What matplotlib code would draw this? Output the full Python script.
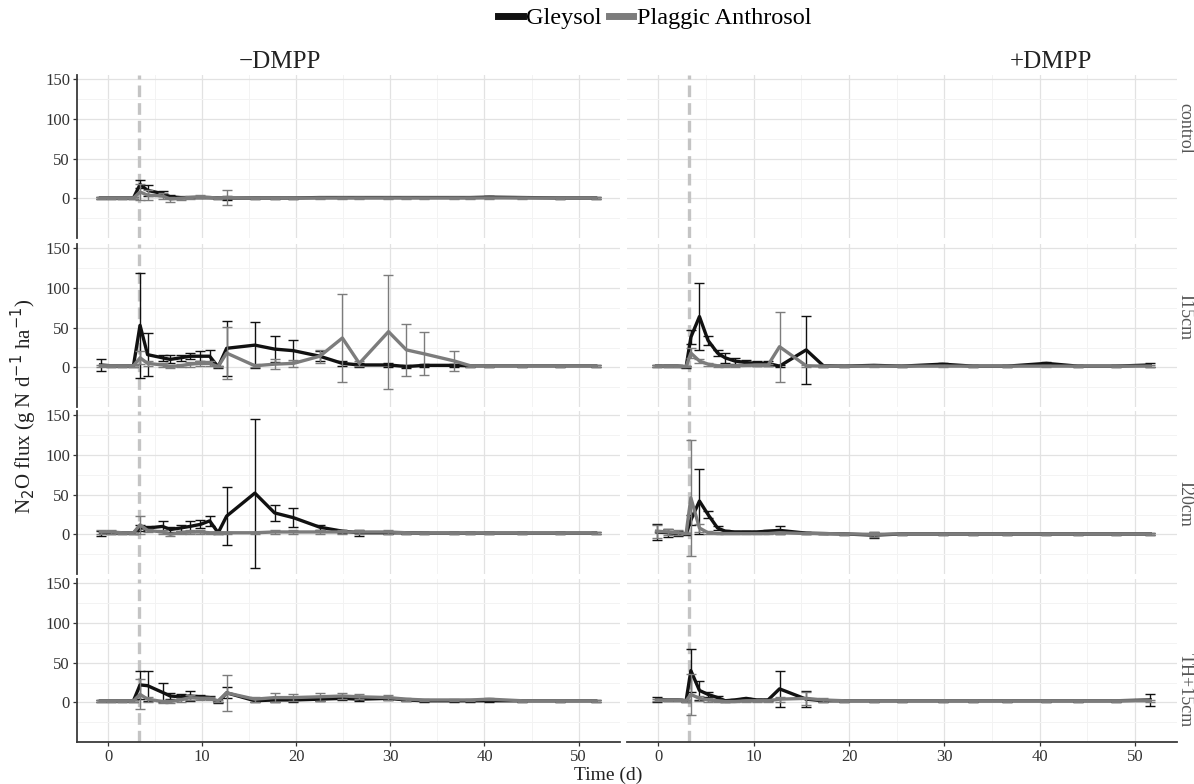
import numpy as np
import matplotlib.pyplot as plt
from matplotlib.lines import Line2D

plt.rcParams['font.family'] = ['Liberation Serif', 'DejaVu Serif']

# =====================================================================
# DATA
# =====================================================================
SOILS = ['Gleysol', 'Plaggic Anthrosol']
ROWS = ['control', 'I15cm', 'I20cm', 'TH+15cm']
COLS = ['\u2212DMPP', '+DMPP']
FERT_DAY = 3.25

# sampling days
days_minus = [-0.8, 0.3, 1.5, 2.7, 3.4, 4.2, 5.8, 6.6, 7.7, 8.7, 9.8, 10.8, 11.7, 12.6,
              15.6, 17.7, 19.7, 22.5, 24.9, 26.7, 29.8, 31.7, 33.6, 36.8, 38.5, 40.5,
              44.0, 48.0, 51.8]
days_plus = [-0.2, 1.0, 2.0, 2.9, 3.4, 4.3, 5.2, 6.2, 7.0, 8.0, 9.2, 10.3, 11.5, 12.7,
             15.5, 17.3, 19.5, 22.6, 25.5, 29.8, 33.0, 36.6, 40.7, 44.0, 48.0, 51.6]

# -DMPP, control
gley_ctrl_m = [0.5, 0.5, 0.5, 0.5, 17.5, 10, 6, 2, 1, 1, 1, 1, 0.5, 0.5,
               0.5, 0.5, 0.5, 1, 1, 1, 1, 1, 1, 1, 1, 1.5, 1, 0.5, 0.5]
gley_ctrl_m_sd = [1, 1, 1, 1, 5, 7, 3, 2, 1, 1, 1, 1, 1, 2,
                  1, 1, 1, 1, 1, 1, 1, 1, 1, 1, 1, 1, 1, 1, 1]
plag_ctrl_m = [0.5, 0.5, 0.5, 0.5, 8, 4, 3, -1, 0, 1, 2, 1, 0.5, 1,
               0.5, 0.5, 0.5, 0.5, 0.5, 0.5, 0.5, 0.5, 0.5, 0.5, 0.5, 0.5, 0.5, 0.5, 0.5]
plag_ctrl_m_sd = [1, 1, 1, 1, 10, 6, 4, 3, 2, 2, 2, 1, 1, 9,
                  1, 1, 1, 1, 1, 1, 1, 1, 1, 1, 1, 1, 1, 1, 1]

# -DMPP, I15cm
gley_i15_m = [3, 2, 2, 2, 53, 16, 12, 10, 12, 14, 14, 14, 0.5, 24,
              28, 23, 21, 14, 5, 3, 3, 1, 2.5, 2.5, 2, 2, 2, 2, 2]
gley_i15_m_sd = [7, 1, 1, 1, 66, 27, 4, 5, 4, 4, 6, 8, 1, 35,
                 29, 16, 14, 6, 3, 2, 2, 2, 2, 2, 1, 1, 1, 1, 1]
plag_i15_m = [2, 2, 2, 2, 12, 5, 3, 1, 2, 4, 5, 5, 1, 18,
              2, 4, 5, 14, 37, 5, 45, 22, 17, 8, 2, 2, 2, 2, 2]
plag_i15_m_sd = [1, 1, 1, 1, 8, 3, 3, 2, 2, 3, 3, 3, 1, 33,
                 2, 6, 4, 8, 55, 3, 72, 33, 27, 13, 1, 1, 1, 1, 1]

# -DMPP, I20cm
gley_i20_m = [1, 2, 2, 2, 8, 8, 10, 6, 8, 10, 12.5, 17, 2, 23,
              52, 27, 21, 9, 4, 2, 2, 2, 1.5, 1.5, 1.5, 1.5, 1.5, 1.5, 1.5]
gley_i20_m_sd = [3, 2, 1, 1, 4, 3, 7, 3, 4, 7, 5, 6, 1, 37,
                 94, 10, 12, 3, 2, 4, 1, 1, 1, 1, 1, 1, 1, 1, 1]
plag_i20_m = [3, 3, 2, 2, 12, 5, 3, 0, 2, 3, 3, 2, 2, 2,
              2, 3, 3, 3, 3, 3, 3, 2, 1.5, 1.5, 1.5, 1.5, 1.5, 1.5, 1.5]
plag_i20_m_sd = [3, 3, 1, 1, 11, 2, 2, 2, 2, 2, 2, 1, 1, 1,
                 1, 2, 2, 2, 2, 3, 2, 1, 1, 1, 1, 1, 1, 1, 1]

# -DMPP, TH+15cm
gley_th_m = [2, 2, 2, 2, 22, 21, 12.5, 8, 7, 8, 7, 6, 0, 12,
             2, 3, 3, 4, 5, 4, 5, 3, 2, 2, 2, 2, 2, 2, 2]
gley_th_m_sd = [1, 1, 1, 1, 18, 19, 12, 4, 3, 6, 2, 2, 1, 7,
                2, 3, 2, 2, 2, 2, 2, 1, 1, 1, 1, 1, 1, 1, 1]
plag_th_m = [2, 2, 2, 2, 10, 4, 1, 1, 3, 6, 5, 5, 2, 12,
             4, 6, 6, 7, 8, 7, 6, 4, 3, 3, 3, 4, 2, 2, 2]
plag_th_m_sd = [1, 1, 1, 1, 19, 3, 2, 2, 2, 3, 2, 2, 1, 23,
                3, 6, 4, 5, 4, 3, 3, 2, 1, 1, 1, 1, 1, 1, 1]

# +DMPP, I15cm
gley_i15_p = [1.5, 1.5, 1.5, 0.5, 38, 64, 34, 18, 12, 8, 6, 5, 5, 1.5,
              22, 2, 1.5, 2.5, 1.5, 4, 1.5, 1.5, 5, 1.5, 1.5, 3]
gley_i15_p_sd = [1, 1, 1, 1, 9, 42, 6, 4, 6, 4, 3, 3, 3, 1,
                 43, 1, 1, 1, 1, 1.5, 1, 1, 2, 1, 1, 3]
plag_i15_p = [1.5, 1.5, 1.5, 1, 18, 8, 4, 2, 2, 2, 2.5, 3, 3, 26,
              2, 1.5, 1.5, 1.5, 1.5, 1.5, 1.5, 1.5, 1.5, 1.5, 1.5, 1.5]
plag_i15_p_sd = [1, 1, 1, 1, 6, 3, 2, 1, 1, 1, 1, 1, 1, 44,
                 1, 1, 1, 1, 1, 1, 1, 1, 1, 1, 1, 1]

# +DMPP, I20cm
gley_i20_p = [3, 2, 1, 0.5, 18, 42, 25, 8, 4, 3, 3, 3, 4, 5,
              1.5, 1, 0.5, -1, 0.5, 0.5, 0.5, 0.5, 0.5, 0.5, 0.5, 0.5]
gley_i20_p_sd = [10, 5, 3, 1, 6, 41, 5, 3, 2, 1, 1, 1, 1, 5,
                 1, 1, 1, 4, 1, 1, 1, 1, 1, 1, 1, 1]
plag_i20_p = [4, 3, 2, 1, 46, 8, 2, 1, 1, 1, 1, 1, 1, 2,
              1, 1, 0.5, 0, 0.5, 0.5, 0.5, 0.5, 0.5, 0.5, 0.5, 0.5]
plag_i20_p_sd = [8, 4, 3, 1, 73, 5, 2, 1, 1, 1, 1, 1, 1, 1,
                 1, 1, 1, 3, 1, 1, 1, 1, 1, 1, 1, 1]

# +DMPP, TH+15cm
gley_th_p = [4, 3, 3, 2, 40, 15, 10, 6, 2, 3, 5, 3, 3, 17,
             4, 2, 2, 2, 2, 2, 2, 2, 2, 2, 2, 3]
gley_th_p_sd = [3, 1, 1, 1, 27, 12, 3, 2, 1, 1, 1, 1, 1, 23,
                10, 1, 1, 1, 1, 1, 1, 1, 1, 1, 1, 7]
plag_th_p = [3, 3, 3, 2, 10, 5, 3, 2, 1, 1, 2, 2, 2, 4,
             5, 3, 2, 2, 2, 2, 2, 2, 2, 2, 2, 2]
plag_th_p_sd = [1, 1, 1, 1, 26, 3, 2, 1, 1, 1, 1, 1, 1, 3,
                8, 2, 1, 1, 1, 1, 1, 1, 1, 1, 1, 1]

# panel -> (days, gleysol, gleysol sd, plaggic, plaggic sd); control +DMPP has no data
panels = {
    (0, 0): (days_minus, gley_ctrl_m, gley_ctrl_m_sd, plag_ctrl_m, plag_ctrl_m_sd),
    (1, 0): (days_minus, gley_i15_m, gley_i15_m_sd, plag_i15_m, plag_i15_m_sd),
    (2, 0): (days_minus, gley_i20_m, gley_i20_m_sd, plag_i20_m, plag_i20_m_sd),
    (3, 0): (days_minus, gley_th_m, gley_th_m_sd, plag_th_m, plag_th_m_sd),
    (1, 1): (days_plus, gley_i15_p, gley_i15_p_sd, plag_i15_p, plag_i15_p_sd),
    (2, 1): (days_plus, gley_i20_p, gley_i20_p_sd, plag_i20_p, plag_i20_p_sd),
    (3, 1): (days_plus, gley_th_p, gley_th_p_sd, plag_th_p, plag_th_p_sd),
}

# =====================================================================
# STYLE / LAYOUT
# =====================================================================
W, H = 1194, 784
COL_GLEY = '#111111'
COL_PLAG = '#7c7c7c'
SPINE_COL = '#3a3a3a'

col_x = [(77, 620), (627, 1177)]
row_bottom_px = [238, 407, 574, 742]
panel_h_px = 162.6
XLIM = (-3.3, 54.4)
YLIM = (-50, 155)

fig = plt.figure(figsize=(W / 100, H / 100), dpi=100)

for r in range(4):
    for c in range(2):
        x0, x1 = col_x[c]
        ax = fig.add_axes([x0 / W, 1 - row_bottom_px[r] / H, (x1 - x0) / W, panel_h_px / H])
        ax.set_xlim(*XLIM)
        ax.set_ylim(*YLIM)
        ax.set_xticks([0, 10, 20, 30, 40, 50])
        ax.set_xticks([5, 15, 25, 35, 45], minor=True)
        ax.set_yticks([0, 50, 100, 150])
        ax.set_yticks([-25, 25, 75, 125], minor=True)
        ax.grid(True, which='major', color='#e2e2e2', lw=0.9)
        ax.grid(True, which='minor', color='#f3f3f3', lw=0.7)
        ax.set_axisbelow(True)
        for s in ['top', 'right']:
            ax.spines[s].set_visible(False)
        ax.spines['left'].set_visible(c == 0)
        ax.spines['bottom'].set_visible(r == 3)
        for s in ['left', 'bottom']:
            ax.spines[s].set_color(SPINE_COL)
            ax.spines[s].set_linewidth(1.3)
        ax.tick_params(which='minor', length=0)
        ax.tick_params(axis='both', which='major', labelsize=12, colors='#333333',
                       length=3, width=0.9, pad=2)
        if c == 1:
            ax.tick_params(axis='y', left=False, labelleft=False)
        if r != 3:
            ax.tick_params(axis='x', bottom=False, labelbottom=False)

        ax.axvline(FERT_DAY, color='#c4c4c4', lw=2.4, dashes=(3.5, 1.8), zorder=1)

        if (r, c) in panels:
            days, g, gsd, p, psd = panels[(r, c)]
            ax.errorbar(days, g, yerr=gsd, color=COL_GLEY, lw=2.4, elinewidth=1.0,
                        capsize=3.5, capthick=1.0, zorder=3)
            ax.errorbar(days, p, yerr=psd, color=COL_PLAG, lw=2.4, elinewidth=1.0,
                        capsize=3.5, capthick=1.0, zorder=4)

# facet strips
fig.text(280 / W, 1 - 62 / H, COLS[0], ha='center', va='center', fontsize=18, color='#222222')
fig.text(1051 / W, 1 - 62 / H, COLS[1], ha='center', va='center', fontsize=18, color='#222222')
row_label_y = [128, 317, 504, 690]
for lab, yy in zip(ROWS, row_label_y):
    fig.text(1185 / W, 1 - yy / H, lab, rotation=270, ha='center', va='center',
             fontsize=13, color='#555555')

# axis titles
fig.text(24 / W, 1 - 406 / H, 'N$_2$O flux (g N d$^{-1}$ ha$^{-1}$)', rotation=90,
         ha='center', va='center', fontsize=15, color='#222222')
fig.text(608 / W, 1 - 775 / H, 'Time (d)', ha='center', va='center', fontsize=14,
         color='#222222')

# legend
handles = [Line2D([0], [0], color=COL_GLEY, lw=5), Line2D([0], [0], color=COL_PLAG, lw=5)]
fig.legend(handles, SOILS, loc='center', bbox_to_anchor=(655 / W, 1 - 18 / H), ncol=2,
           frameon=False, fontsize=17.5, handlelength=1.0, handletextpad=0.15,
           columnspacing=0.3, borderpad=0)

fig.savefig('out.png', dpi=100)
plt.close()
